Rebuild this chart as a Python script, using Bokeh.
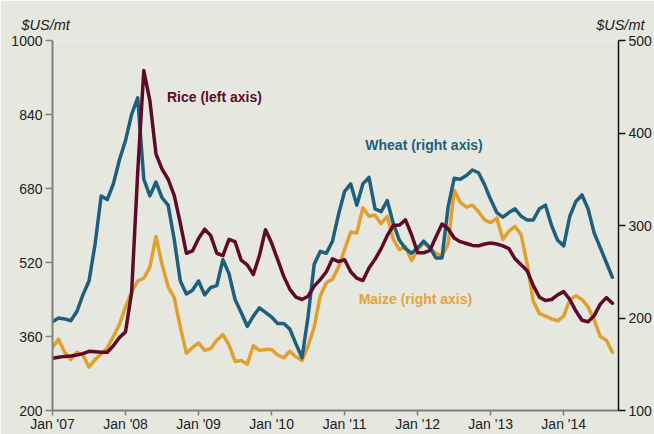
import numpy as np
from bokeh.plotting import figure
from bokeh.models import Range1d, LinearAxis, FixedTicker, Label, Title
from bokeh.embed import file_html
from bokeh.resources import INLINE

# Monthly prices, Jan 2007 - Sep 2014 (US$/metric tonne)
rice = [313, 315, 317, 318, 320, 323, 328, 327, 326, 326, 340, 358,
        370, 455, 715, 935, 870, 755, 722, 700, 665, 605, 540, 545,
        572, 592, 578, 540, 535, 570, 565, 525, 515, 494, 535, 591,
        562, 526, 490, 462, 445, 440, 447, 469, 483, 500, 528, 522,
        526, 500, 486, 481, 508, 527, 550, 578, 600, 601, 612, 580,
        541, 541, 546, 575, 603, 593, 573, 565, 561, 557, 556, 560,
        562, 560, 556, 550, 528, 515, 502, 470, 445, 438, 440, 450,
        457, 440, 415, 395, 392, 405, 430, 444, 432]
wheat = [196, 200, 199, 197, 207, 225, 240, 280, 332, 328, 345, 371,
         392, 420, 438, 350, 332, 347, 330, 322, 285, 240, 226, 230,
         240, 225, 233, 235, 263, 248, 220, 206, 191, 202, 211, 206,
         201, 194, 194, 188, 172, 157, 202, 258, 272, 270, 283, 312,
         337, 345, 322, 345, 352, 318, 315, 327, 302, 284, 275, 270,
         276, 283, 276, 265, 265, 320, 351, 350, 354, 360, 357, 344,
         328, 314, 309, 314, 318, 310, 306, 306, 318, 322, 300, 284,
         278, 310, 326, 333, 318, 292, 276, 260, 244]
maize = [168, 177, 163, 155, 163, 160, 147, 155, 161, 168, 180, 193,
         212, 228, 240, 243, 255, 288, 258, 234, 222, 190, 162, 168,
         173, 165, 167, 176, 182, 171, 153, 154, 150, 170, 165, 166,
         166, 160, 157, 164, 158, 154, 170, 190, 224, 238, 242, 255,
         274, 293, 292, 319, 310, 311, 302, 310, 285, 274, 277, 262,
         274, 281, 276, 270, 267, 280, 338, 325, 320, 322, 315, 306,
         303, 308, 285, 294, 299, 290, 258, 218, 205, 202, 199, 197,
         202, 220, 224, 220, 212, 198, 180, 176, 163]
months = list(range(len(rice)))  # months since Jan 2007

year_ticks = [12 * k for k in range(8)]
year_labels = ["Jan '07", "Jan '08", "Jan '09", "Jan '10",
               "Jan '11", "Jan '12", "Jan '13", "Jan '14"]
left_ticks = [200, 360, 520, 680, 840, 1000]
right_ticks = [100, 200, 300, 400, 500]
unit_label = "$US/mt"

BG = "#e6e7df"
RICE_C = "#5e0b2b"
WHEAT_C = "#1e5f7d"
MAIZE_C = "#e0a02e"
FONT = "Liberation Sans"
TXT = "#222222"

p = figure(width=654, height=434, output_backend="svg", toolbar_location=None,
           x_range=Range1d(0, 93), y_range=Range1d(200, 1000),
           min_border_left=52, min_border_right=36, min_border_top=40,
           min_border_bottom=22, background_fill_color=BG, border_fill_color=BG,
           outline_line_color=None)
p.grid.visible = False
p.extra_y_ranges = {"right": Range1d(100, 500)}

# unit titles above both axes
p.title.text = unit_label
p.title.align = "left"
p.title.offset = -31
p.title.standoff = -52
p.title.text_font = FONT
p.title.text_font_size = "14.5px"
p.title.text_font_style = "italic"
p.title.text_color = TXT
rt = Title(text=unit_label, align="right", offset=-26, standoff=16,
           text_font=FONT, text_font_size="14.5px", text_font_style="italic",
           text_color=TXT)
p.add_layout(rt, "above")

xa = p.xaxis[0]
xa.ticker = FixedTicker(ticks=year_ticks)
xa.major_label_overrides = dict(zip(year_ticks, year_labels))
xa.minor_tick_line_color = None
xa.major_tick_in = 0
xa.major_tick_out = 5
xa.major_label_standoff = 0
xa.axis_line_color = "#808080"
xa.axis_line_width = 2
xa.major_tick_line_color = "#808080"
xa.major_tick_line_width = 1.5
xa.major_label_text_font = FONT
xa.major_label_text_font_size = "14px"
xa.major_label_text_color = TXT

ya = p.yaxis[0]
ya.ticker = FixedTicker(ticks=left_ticks)
ya.minor_tick_line_color = None
ya.major_tick_in = 0
ya.major_tick_out = 7
ya.major_label_standoff = 3
ya.axis_line_color = "#808080"
ya.axis_line_width = 2
ya.major_tick_line_color = "#808080"
ya.major_tick_line_width = 1.5
ya.major_label_text_font = FONT
ya.major_label_text_font_size = "14px"
ya.major_label_text_color = TXT

ra = LinearAxis(y_range_name="right", ticker=FixedTicker(ticks=right_ticks))
ra.minor_tick_line_color = None
ra.major_tick_in = 0
ra.major_tick_out = 7
ra.major_label_standoff = 3
ra.axis_line_color = "#111111"
ra.axis_line_width = 1.5
ra.major_tick_line_color = "#111111"
ra.major_tick_line_width = 1.5
ra.major_label_text_font = FONT
ra.major_label_text_font_size = "14px"
ra.major_label_text_color = TXT
p.add_layout(ra, "right")

p.line(months, maize, y_range_name="right", line_color=MAIZE_C, line_width=3.5,
       line_join="round", line_cap="round")
p.line(months, wheat, y_range_name="right", line_color=WHEAT_C, line_width=3.5,
       line_join="round", line_cap="round")
p.line(months, rice, line_color=RICE_C, line_width=3.5,
       line_join="round", line_cap="round")

def add_label(x, y, text, color):
    p.add_layout(Label(x=x, y=y, text=text, text_color=color, text_font=FONT,
                       text_font_size="14px", text_font_style="bold",
                       text_baseline="middle", text_align="left"))

add_label(18.8, 877, "Rice (left axis)", RICE_C)
add_label(51.4, 775, "Wheat (right axis)", WHEAT_C)
add_label(50.3, 442, "Maize (right axis)", "#e2a53c")

html = file_html(p, INLINE)
html = html.replace("<body>", f'<body style="background-color:{BG};">', 1)
open("out.html", "w").write(html)
